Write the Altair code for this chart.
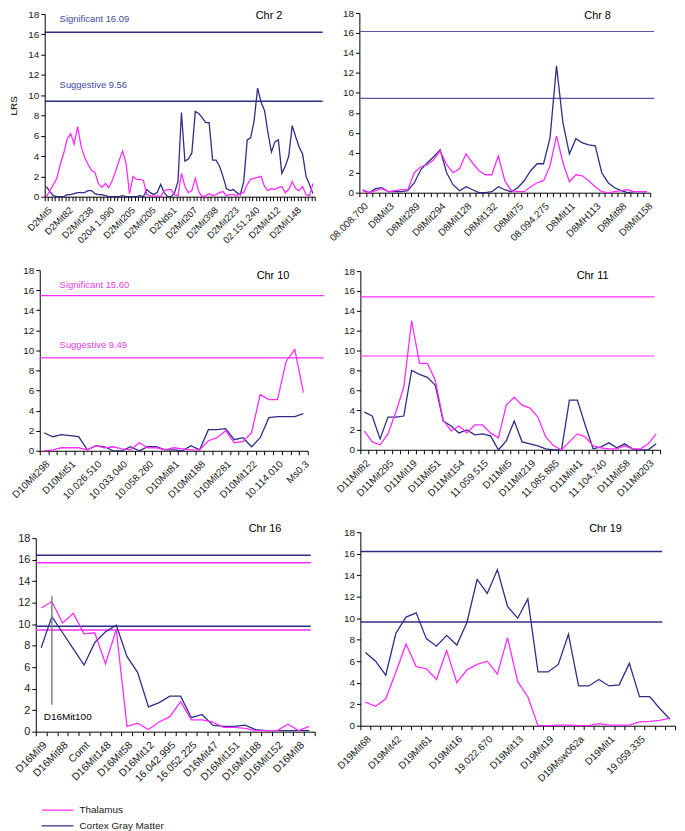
import json
import altair as alt
import pandas as pd

FONT = "Liberation Sans"
MAG = "#ff2cff"
NAVY = "#2e2e86"
SERIES = ["Thalamus", "Cortex Gray Matter"]

# ---------------- data ----------------
chr2_names = ["D2Mit5", "D2Mit82", "D2Mit238", "0204 1.990", "D2Mit205", "D2Mit205", "D2Nds1",
              "D2Mit207", "D2Mit398", "D2Mit223", "02.151.240", "D2Mit412", "D2Mit148"]
chr2_thal = [0.0, 0.6, 1.2, 1.8, 3.2, 4.3, 5.7, 6.2, 5.2, 6.9,
             5.0, 3.9, 3.2, 2.6, 2.4, 1.3, 0.9, 1.3, 0.9, 1.6,
             2.5, 3.6, 4.5, 3.3, 0.3, 2.0, 1.7, 1.7, 1.6, 0.2,
             0.1, 0.0, 0.1, 0.0, 0.6, 0.7, 0.7, 0.2, 0.1, 2.3,
             1.0, 0.4, 0.6, 1.8, 0.5, 0.0, 0.1, 0.3, 0.1, 0.2,
             0.4, 0.5, 0.1, 0.2, 0.2, 0.1, 0.3, 0.4, 1.2, 1.7,
             1.8, 1.9, 2.0, 1.0, 0.6, 0.8, 0.7, 0.9, 1.0, 0.4,
             0.7, 1.5, 0.8, 0.6, 1.0, 0.2, 0.1, 1.3]
chr2_cortex = [1.0, 0.5, 0.1, 0.0, 0.0, 0.0, 0.2, 0.2, 0.3, 0.4,
               0.4, 0.4, 0.6, 0.6, 0.3, 0.2, 0.2, 0.1, 0.0, 0.0,
               0.0, 0.0, 0.1, 0.0, 0.0, 0.0, 0.0, 0.1, 0.0, 0.7,
               0.4, 0.2, 0.4, 1.2, 0.4, 0.0, 0.0, 0.4, 1.5, 8.3,
               3.5, 3.7, 4.3, 8.4, 8.2, 7.8, 7.3, 7.3, 3.6, 3.6,
               3.0, 2.0, 0.8, 0.6, 0.7, 0.4, 0.2, 1.5, 5.6, 5.8,
               7.5, 10.7, 9.3, 8.5, 6.3, 4.4, 5.4, 5.6, 2.3, 3.0,
               4.0, 7.0, 5.9, 4.9, 4.2, 2.0, 1.2, 0.3]

chr8_names = ["08.008.700", "D8Mit3", "D8Mit289", "D8Mit294", "D8Mit128", "D8Mit132", "D8Mit75",
              "08.094.275", "D8Mit11", "D8MH113", "D8Mit88", "D8Mit158"]
chr8_thal = [0.2, 0.0, 0.2, 0.4, 0.1, 0.2, 0.3, 0.3, 2.0, 2.6,
             2.8, 3.3, 4.2, 2.8, 2.0, 2.4, 3.9, 3.0, 2.2, 1.8,
             1.8, 3.7, 1.2, 0.2, 0.1, 0.1, 0.6, 1.0, 1.2, 2.7,
             5.7, 3.0, 1.1, 1.8, 1.7, 1.2, 0.6, 0.1, 0.0, 0.1,
             0.2, 0.3, 0.1, 0.1, 0.1]
chr8_cortex = [0.3, 0.0, 0.4, 0.5, 0.1, 0.1, 0.1, 0.2, 1.0, 2.3,
               3.0, 3.6, 4.3, 2.0, 0.8, 0.2, 0.6, 0.3, 0.0, 0.0,
               0.1, 0.6, 0.3, 0.1, 0.5, 1.2, 2.2, 2.9, 2.9, 5.5,
               12.7, 7.0, 3.9, 5.4, 5.0, 4.8, 4.7, 2.0, 1.0, 0.5,
               0.2, 0.0, 0.1, 0.1, 0.1]

chr10_names = ["D10Mit298", "D10Mit51", "10.026.510", "10.033.040", "10.058.260", "D10Mit81",
               "D10Mit188", "D10Mit281", "D10Mit122", "10.114.010", "Ms0.3"]
chr10_thal = [0.0, 0.1, 0.3, 0.3, 0.3, 0.1, 0.5, 0.3, 0.4, 0.2,
              0.1, 0.8, 0.3, 0.3, 0.1, 0.3, 0.2, 0.1, 0.1, 1.0,
              1.3, 2.0, 0.8, 0.9, 1.8, 5.6, 5.1, 5.1, 8.9, 10.1, 5.8]
chr10_cortex = [1.8, 1.4, 1.6, 1.5, 1.4, 0.1, 0.5, 0.4, 0.0, 0.0,
                0.4, 0.0, 0.4, 0.4, 0.1, 0.1, 0.0, 0.5, 0.1, 2.1,
                2.1, 2.2, 1.1, 1.3, 0.4, 1.3, 3.3, 3.4, 3.4, 3.4, 3.7]

chr11_names = ["D11Mit82", "D11Mit295", "D11Mit19", "D11Mit51", "D11Mit154", "11.059.515", "D11Mit5",
               "D11Mit219", "11.085.885", "D11Mit41", "11.104.740", "D11Mit58", "D11Mit203"]
chr11_thal = [1.9, 0.8, 0.5, 1.6, 3.8, 6.3, 13.0, 8.7, 8.7, 7.0,
              3.0, 1.9, 2.4, 1.7, 2.5, 2.5, 1.7, 1.2, 4.5, 5.3,
              4.5, 4.2, 3.3, 1.3, 0.4, 0.0, 0.8, 1.6, 1.3, 0.4,
              0.2, 0.1, 0.1, 0.4, 0.1, 0.1, 0.6, 1.6]
chr11_cortex = [3.8, 3.4, 1.1, 3.3, 3.3, 3.4, 8.0, 7.6, 7.3, 6.5,
                2.9, 2.4, 1.7, 2.0, 1.5, 1.6, 1.4, 0.0, 0.9, 2.9,
                0.8, 0.6, 0.4, 0.1, 0.0, 0.0, 5.0, 5.0, 2.5, 0.1,
                0.3, 0.7, 0.2, 0.6, 0.1, 0.0, 0.0, 0.6]

chr16_names = ["D16Mit9", "D16Mit88", "Comt", "D16Mit148", "D16Mit58", "D16Mit12", "16.042.995",
               "16.052.225", "D16Mit47", "D16Mit151", "D16Mit188", "D16Mit152", "D16Mit8"]
chr16_thal = [11.5, 12.1, 10.1, 11.0, 9.1, 9.2, 6.3, 9.5, 0.5, 0.8,
              0.2, 0.9, 1.4, 2.8, 1.1, 1.1, 0.9, 0.4, 0.4, 0.3,
              0.1, 0.1, 0.1, 0.7, 0.1, 0.5]
chr16_cortex = [7.8, 10.7, 9.2, 7.7, 6.2, 8.3, 9.3, 9.9, 7.0, 5.5,
                2.3, 2.7, 3.3, 3.3, 1.3, 1.6, 0.6, 0.5, 0.5, 0.6,
                0.2, 0.1, 0.1, 0.1, 0.1, 0.1]
chr16_marker = "D16Mit100"
chr16_marker_index = 1
chr16_marker_span = [2.5, 12.6]

chr19_names = ["D19Mit68", "D19Mit42", "D19Mit61", "D19Mit16", "19.022.670", "D19Mit13",
               "D19Mit19", "D19Msw062a", "D19Mit1", "19.059.335"]
chr19_thal = [2.2, 1.8, 2.5, 5.0, 7.6, 5.5, 5.3, 4.3, 7.0, 4.0,
              5.2, 5.7, 6.0, 4.8, 8.2, 4.1, 2.7, 0.0, 0.0, 0.05,
              0.05, 0.0, 0.0, 0.2, 0.05, 0.05, 0.05, 0.35, 0.4, 0.5, 0.7]
chr19_cortex = [6.8, 6.0, 4.7, 8.6, 10.1, 10.5, 8.1, 7.4, 8.4, 7.5,
                9.6, 13.6, 12.3, 14.5, 11.1, 10.0, 11.8, 5.0, 5.0, 5.7,
                8.5, 3.7, 3.7, 4.3, 3.7, 3.8, 5.8, 2.7, 2.7, 1.6, 0.6]

# thresholds (cortex = navy, thalamus = magenta)
chr2_thr = [16.2, 9.4]
chr8_thr = [16.15, 9.45]
chr10_thr = [15.45, 9.25]
chr11_thr = [15.4, 9.45]
chr16_thr_cortex = [16.4, 9.8]
chr16_thr_thal = [15.7, 9.45]
chr19_thr = [16.2, 9.65]


def long_df(thal, cortex):
    rows = [{"i": i, "v": v, "s": SERIES[1]} for i, v in enumerate(cortex)]
    rows += [{"i": i, "v": v, "s": SERIES[0]} for i, v in enumerate(thal)]
    return pd.DataFrame(rows)


def label_expr(names, step, n):
    arr = [""] * n
    for k, nm in enumerate(names):
        arr[k * step] = nm
    return json.dumps(arr) + "[datum.value]"


def txt(s, x, y, size, color, align="left"):
    return alt.Chart(pd.DataFrame({"t": [s]})).mark_text(
        align=align, baseline="middle", fontSize=size, color=color, font=FONT,
        fontWeight="normal"
    ).encode(text="t:N", x=alt.value(x), y=alt.value(y))


def panel(title, thal, cortex, names, step, W, H, sx, sy, thr_sets, rule_w, tpos,
          xfs=10, yfs=10, lrs=False, legend=False, extra=()):
    n = len(thal)
    df = long_df(thal, cortex)
    xscale = alt.Scale(type="band", domain=list(range(n)), range=[sx, sx + W],
                       paddingInner=0, paddingOuter=0)
    yscale = alt.Scale(domain=[0, 18], range=[sy + H, sy], nice=False, zero=False)
    xaxis = alt.Axis(title=None, tickBand="extent", labelExpr=label_expr(names, step, n),
                     labelAngle=-45, labelAlign="right", labelBaseline="top",
                     labelFontSize=xfs, labelPadding=4, tickSize=4, domainColor="black",
                     tickColor="black", labelColor="#1a1a1a", grid=False, labelOverlap=False,
                     labelFont=FONT)
    ykw = dict(values=list(range(0, 19, 2)), offset=-sx, tickSize=4, labelPadding=2,
               labelFontSize=yfs, domainColor="black", tickColor="black", labelColor="#1a1a1a",
               grid=False, labelFont=FONT)
    if lrs:
        ykw.update(title="LRS", titleFontWeight="normal", titleFontSize=10, titlePadding=9,
                   titleColor="black", titleFont=FONT)
    else:
        ykw.update(title=None)
    X = alt.X("i:O", scale=xscale, axis=xaxis)
    Y = alt.Y("v:Q", scale=yscale, axis=alt.Axis(**ykw))

    layers = []
    for vals, color, sw in thr_sets:
        layers.append(
            alt.Chart(pd.DataFrame({"v": vals})).mark_rule(color=color, strokeWidth=sw)
            .encode(y=Y, x=alt.value(sx), x2=alt.value(sx + rule_w))
        )
    if legend:
        leg = alt.Legend(orient="none", legendX=17, legendY=283, title=None,
                         symbolType="M-4,0H4", symbolSize=64, symbolStrokeWidth=1.3,
                         labelFontSize=10, labelFont=FONT, labelColor="#1a1a1a",
                         labelOffset=17, rowPadding=6)
    else:
        leg = None
    color = alt.Color("s:N", scale=alt.Scale(domain=SERIES, range=[MAG, NAVY]), legend=leg)
    layers.append(
        alt.Chart(df).mark_line(strokeWidth=1.3).encode(x=X, y=Y, color=color)
    )
    for e in extra:
        layers.append(e(X, Y))
    layers.append(txt(title, tpos[0], tpos[1], 11, "black", align="center"))
    return alt.layer(*layers).properties(width=sx + W, height=sy + H)


c2 = panel("Chr 2", chr2_thal, chr2_cortex, chr2_names, 6, 272, 184, 9, 1,
           [(chr2_thr, NAVY, 1.5)], 280, (235, 3), xfs=9.5, lrs=True,
           extra=[lambda X, Y: txt("Significant 16.09", 24, 6, 9.5, "#4646a0"),
                  lambda X, Y: txt("Suggestive 9.56", 24, 73, 9.5, "#4646a0")])
c8 = panel("Chr 8", chr8_thal, chr8_cortex, chr8_names, 4, 293, 181, 0, 0,
           [(chr8_thr, "#5555aa", 1.1)], 297, (240, 3))
c10 = panel("Chr 10", chr10_thal, chr10_cortex, chr10_names, 3, 270, 182, 4, 0,
            [(chr10_thr, MAG, 1.2)], 286, (239, 6),
            extra=[lambda X, Y: txt("Significant 15.60", 24, 15, 9.5, "#e040e0"),
                   lambda X, Y: txt("Suggestive 9.49", 24, 75, 9.5, "#e040e0")])
c11 = panel("Chr 11", chr11_thal, chr11_cortex, chr11_names, 3, 302, 180, 1, 1,
            [(chr11_thr, MAG, 1.2)], 296, (235, 6))


def marker_rule(X, Y):
    d = pd.DataFrame({"i": [chr16_marker_index], "v": [chr16_marker_span[0]],
                      "v2": [chr16_marker_span[1]]})
    return alt.Chart(d).mark_rule(color="#808080", strokeWidth=1.5).encode(
        x=X, y=Y, y2="v2:Q")


def marker_text(X, Y):
    d = pd.DataFrame({"t": [chr16_marker], "v": [1.36]})
    return alt.Chart(d).mark_text(align="left", baseline="middle", fontSize=10,
                                  color="black", font=FONT, fontWeight="normal").encode(
        text="t:N", x=alt.value(8), y=Y)


c16 = panel("Chr 16", chr16_thal, chr16_cortex, chr16_names, 2, 281, 195, 0, 14,
            [(chr16_thr_cortex, NAVY, 1.5), (chr16_thr_thal, MAG, 1.5)], 277, (231, 5),
            xfs=10.5, yfs=11, legend=True, extra=[marker_rule, marker_text])
c19 = panel("Chr 19", chr19_thal, chr19_cortex, chr19_names, 3, 317, 195, 1, 8,
            [(chr19_thr, NAVY, 1.5)], 304, (248, 5))

chart = alt.concat(
    c2, c8, c10, c11, c16, c19, columns=2, bounds="flush",
    spacing={"row": 74, "column": 45}
).resolve_scale(color="independent").properties(
    padding={"left": 0, "top": -3, "right": 0, "bottom": 0}
).configure(font=FONT).configure_view(strokeWidth=0)

chart.save("out.html", embed_options={"renderer": "svg", "actions": False})
